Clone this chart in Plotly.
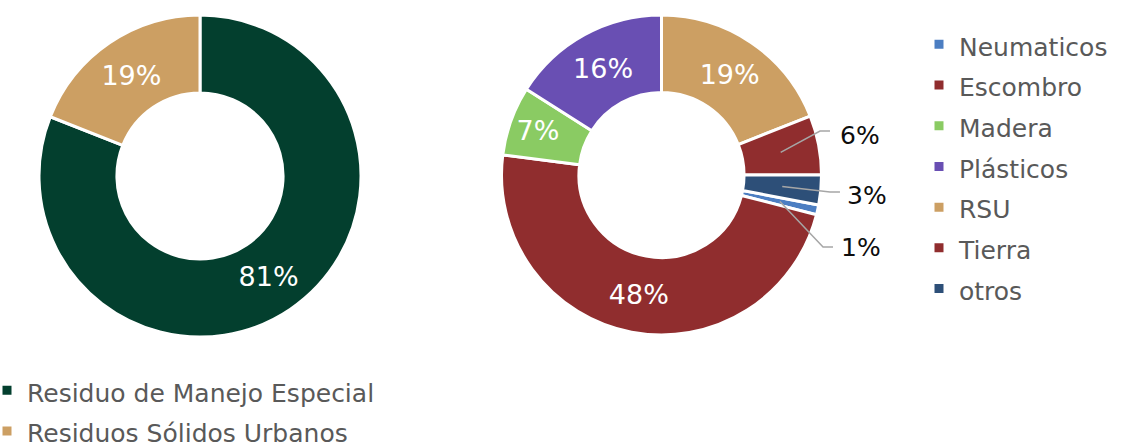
import math
import plotly.graph_objects as go

W, H = 1121, 447

# ---- data ----
left_labels = ["Residuo de Manejo Especial", "Residuos Sólidos Urbanos"]
left_values = [81, 19]
left_colors = ["#033F2E", "#CC9F63"]

right_labels = ["Neumaticos", "Escombro", "Madera", "Plásticos", "RSU", "Tierra", "otros"]
right_values = [1, 48, 7, 16, 19, 6, 3]
right_colors = ["#4C7EC2", "#902D2E", "#8ACB63", "#694FB3", "#CC9F63", "#902D2E", "#2D4F78"]

# slices labelled outside: leader-line elbow (px) and label text position (px)
outside_elbow = {"Tierra": (820, 131), "otros": (830, 192), "Neumaticos": (823, 247)}
outside_text = {"Tierra": (840, 136), "otros": (847, 196), "Neumaticos": (841, 247)}

FONT = "DejaVu Sans"
LEG_TXT = 25      # visible legend text size
PCT_IN = 27       # inside percentage labels
PCT_OUT = 25      # outside percentage labels
LEG_SPACING = 29  # legend font size used only for row spacing
HOLE = 0.516

# geometry (pixels)
L_C, L_R = (200.0, 176.0), 161.0
R_C, R_R = (661.5, 175.0), 160.0


def dom(c, r):
    return dict(x=[(c[0] - r) / W, (c[0] + r) / W],
                y=[1 - (c[1] + r) / H, 1 - (c[1] - r) / H])


def leg(lbls):
    return ['<span style="font-size:%dpx">%s</span>' % (LEG_TXT, s) for s in lbls]


total_r = sum(right_values)
# RSU starts at 12 o'clock -> rotation of the first slice
i_rsu = right_labels.index("RSU")
rotation = 360.0 * sum(right_values[i_rsu:]) / total_r

right_text = ["" if lab in outside_elbow else "%d%%" % round(100 * v / total_r)
              for lab, v in zip(right_labels, right_values)]

fig = go.Figure()
fig.add_trace(go.Pie(
    labels=leg(left_labels), values=left_values, hole=HOLE, sort=False,
    direction="clockwise", rotation=0,
    marker=dict(colors=left_colors, line=dict(color="white", width=3)),
    textinfo="percent", textposition="inside", insidetextorientation="horizontal",
    textfont=dict(family=FONT, size=PCT_IN, color="white"),
    domain=dom(L_C, L_R), legend="legend",
))
fig.add_trace(go.Pie(
    labels=leg(right_labels), values=right_values, hole=HOLE, sort=False,
    direction="clockwise", rotation=rotation,
    marker=dict(colors=right_colors, line=dict(color="white", width=3)),
    text=right_text, textinfo="text", textposition="inside",
    insidetextorientation="horizontal",
    textfont=dict(family=FONT, size=PCT_IN, color="white"),
    domain=dom(R_C, R_R), legend="legend2",
))

# leader lines + outside labels (anchors computed from data)
rm = (R_R + R_R * HOLE) / 2
cum = 0.0
shapes, annots = [], []
for lab, v in zip(right_labels, right_values):
    if lab in outside_elbow:
        a = math.radians(rotation + 360.0 * (cum + v / 2) / total_r)
        px = R_C[0] + rm * math.sin(a)
        py = R_C[1] - rm * math.cos(a)
        ex, ey = outside_elbow[lab]
        pts = [(px, py), (ex, ey), (ex + 10, ey)]
        path = "M " + " L ".join("%.4f,%.4f" % (x / W, 1 - y / H) for x, y in pts)
        shapes.append(dict(type="path", xref="paper", yref="paper", path=path,
                           line=dict(color="#A6A6A6", width=1.5)))
        tx, ty = outside_text[lab]
        annots.append(dict(xref="paper", yref="paper", x=(tx - 2) / W, y=1 - ty / H,
                           xanchor="left", yanchor="middle", showarrow=False,
                           text="%d%%" % round(100 * v / total_r),
                           font=dict(family=FONT, size=PCT_OUT, color="#0D0D0D")))
    cum += v

legend_font = dict(family=FONT, size=LEG_SPACING, color="#595959")
fig.update_layout(
    width=W, height=H, margin=dict(l=0, r=0, t=0, b=0, autoexpand=False),
    paper_bgcolor="white", plot_bgcolor="white",
    showlegend=True,
    legend=dict(x=-13 / W, y=1 - 365 / H, xanchor="left", yanchor="top",
                font=legend_font, bgcolor="rgba(0,0,0,0)", traceorder="normal"),
    legend2=dict(x=919 / W, y=1 - 19 / H, xanchor="left", yanchor="top",
                 font=legend_font, bgcolor="rgba(0,0,0,0)", traceorder="normal"),
    shapes=shapes, annotations=annots,
)
fig.write_html("out.html", config={"displayModeBar": False},
               post_script="document.body.style.margin='0';")
